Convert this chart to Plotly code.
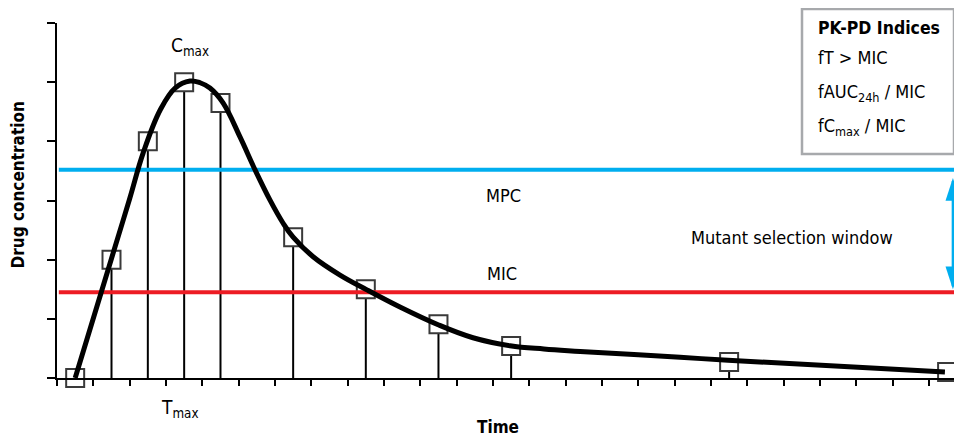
import plotly.graph_objects as go

# ---- data ----
time_pts = [0.5, 1.5, 2.5, 3.5, 4.5, 6.5, 8.5, 10.5, 12.5, 18.5, 24.5]
conc_pts = [0.0, 2.0, 4.0, 5.0, 4.65, 2.38, 1.5, 0.91, 0.54, 0.27, 0.10]

curve_t = [0.5, 1.49, 2.0, 2.37, 2.84, 3.25, 3.66, 3.94, 4.21, 4.57, 5.04, 5.45,
           5.86, 6.22, 6.5, 7.05, 7.79, 8.53, 9.44, 10.49, 11.45, 12.47, 13.4,
           14.4, 17.15, 18.47, 24.44]
curve_c = [0.0, 2.0, 3.03, 3.80, 4.53, 4.90, 5.02, 4.99, 4.90, 4.65, 4.07, 3.52,
           3.01, 2.62, 2.38, 2.05, 1.74, 1.49, 1.20, 0.90, 0.68, 0.545, 0.49,
           0.45, 0.35, 0.30, 0.10]

MIC = 1.45
MPC = 3.52
line_span = [0.05, 24.78]
arrow_t = 24.66
arrow_tips = [1.50, 3.38]

legend_title = "PK-PD Indices"
legend_items = ["fT > MIC", "fAUC<sub>24h</sub> / MIC", "fC<sub>max</sub> / MIC"]

FONT = "DejaVu Sans Condensed, Liberation Sans Narrow, Arial Narrow, sans-serif"
BLUE = "#00AEEF"
RED = "#ED1C24"

# pixel helpers for paper-referenced items (plot area spans 57..962 x 23..378)
def px(xp):
    return (xp - 57) / 905.0
def py(yp):
    return (378 - yp) / 355.0

fig = go.Figure()

# drop lines
dx, dy = [], []
for t, c in zip(time_pts, conc_pts):
    dx += [t, t, None]
    dy += [0, c, None]
fig.add_trace(go.Scatter(x=dx, y=dy, mode="lines",
                         line=dict(color="black", width=2),
                         hoverinfo="skip", cliponaxis=False))

# squares
fig.add_trace(go.Scatter(x=time_pts, y=conc_pts, mode="markers",
                         marker=dict(symbol="square", size=18, color="white",
                                     line=dict(color="#3a3a3a", width=2)),
                         cliponaxis=False))

# MPC and MIC lines
fig.add_trace(go.Scatter(x=line_span, y=[MPC, MPC], mode="lines",
                         line=dict(color=BLUE, width=4), cliponaxis=False))
fig.add_trace(go.Scatter(x=line_span, y=[MIC, MIC], mode="lines",
                         line=dict(color=RED, width=4), cliponaxis=False))

# double-headed arrow: shaft + heads
fig.add_trace(go.Scatter(x=[arrow_t, arrow_t], y=[arrow_tips[0] + 0.05, arrow_tips[1] - 0.05],
                         mode="lines", line=dict(color=BLUE, width=2.5),
                         cliponaxis=False))
fig.add_trace(go.Scatter(x=[arrow_t, arrow_t], y=[arrow_tips[1], arrow_tips[0]],
                         mode="markers",
                         marker=dict(symbol="arrow", size=24, color=BLUE,
                                     angle=[0, 180], line=dict(width=0)),
                         cliponaxis=False))

# concentration curve
fig.add_trace(go.Scatter(x=curve_t, y=curve_c, mode="lines",
                         line=dict(color="black", width=5, shape="spline", smoothing=1.1),
                         cliponaxis=False))

ann = []
def txt(x, y, s, size=18, bold=False, xanchor="center", yanchor="middle",
        ref="x", **kw):
    if bold:
        s = "<b>" + s + "</b>"
    xr, yr = ("x", "y") if ref == "x" else ("paper", "paper")
    ann.append(dict(x=x, y=y, xref=xr, yref=yr, text=s, showarrow=False,
                    xanchor=xanchor, yanchor=yanchor,
                    font=dict(family=FONT, size=size, color="black"), **kw))

txt(3.66, 5.6, "C<sub>max</sub>", size=19)
txt(px(180), py(409), "T<sub>max</sub>", size=19, ref="paper")
txt(12.28, 3.09, "MPC")
txt(12.25, 1.77, "MIC")
txt(20.23, 2.37, "Mutant selection window")
txt(px(498), py(427), "Time", bold=True, size=17, ref="paper")
txt(px(17.5), py(185), "Drug concentration", bold=True, size=17, ref="paper",
    textangle=-90)

# legend box text
lx = px(816)
txt(lx, py(28), legend_title, bold=True, size=17.5, xanchor="left", ref="paper")
txt(lx, py(58), legend_items[0], xanchor="left", ref="paper")
txt(lx, py(93), legend_items[1], xanchor="left", ref="paper")
txt(lx, py(127), legend_items[2], xanchor="left", ref="paper")

# the page body has an 8px margin, so the figure is 8px smaller than the window
fig.update_layout(
    width=954, height=429,
    margin=dict(l=49, r=0, t=15, b=59),
    plot_bgcolor="white", paper_bgcolor="white",
    showlegend=False,
    annotations=ann,
    shapes=[dict(type="rect", xref="paper", yref="paper",
                 x0=px(802), x1=px(954), y0=py(154), y1=py(9),
                 line=dict(color="#A7A9AC", width=2.5), fillcolor="white",
                 layer="above")],
    xaxis=dict(range=[0, 24.91], showgrid=False, zeroline=False,
               showline=True, linecolor="black", linewidth=1.5,
               ticks="outside", ticklen=6, tickwidth=1.5, tickcolor="black",
               tick0=0, dtick=1, showticklabels=False),
    yaxis=dict(range=[0, 6], showgrid=False, zeroline=False,
               showline=True, linecolor="black", linewidth=1.5,
               ticks="outside", ticklen=8, tickwidth=1.5, tickcolor="black",
               tick0=0, dtick=1, showticklabels=False),
)

fig.write_html("out.html")
